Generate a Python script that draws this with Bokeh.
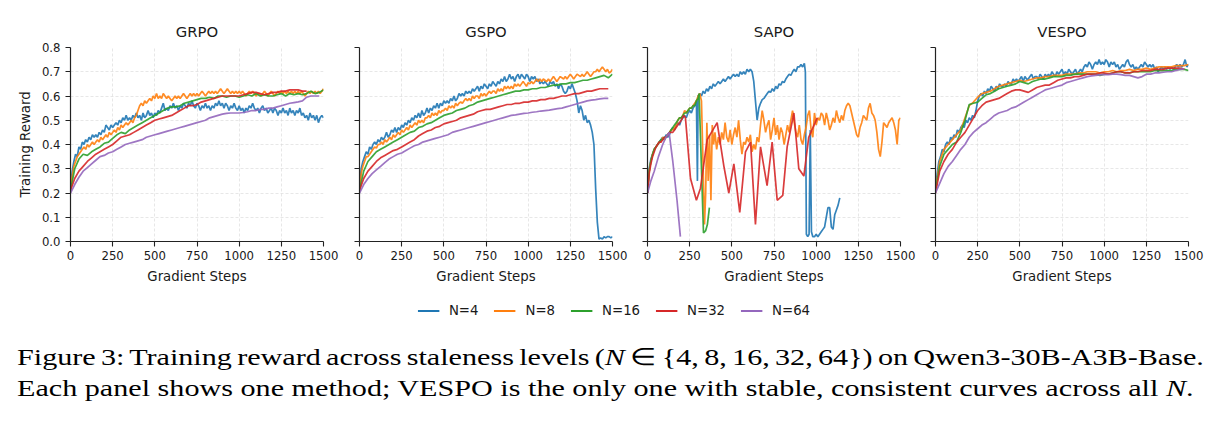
from bokeh.plotting import figure
from bokeh.models import Range1d, FixedTicker, Legend, LegendItem, Div, CustomJSTickFormatter
from bokeh.layouts import row, column
from bokeh.embed import file_html
from bokeh.resources import INLINE

METHODS = ["GRPO", "GSPO", "SAPO", "VESPO"]
LABELS = ["N=4", "N=8", "N=16", "N=32", "N=64"]
COLORS = ["#1f77b4", "#ff7f0e", "#2ca02c", "#d62728", "#9467bd"]
X_TICKS = [0, 250, 500, 750, 1000, 1250, 1500]
Y_TICKS = [0.0, 0.1, 0.2, 0.3, 0.4, 0.5, 0.6, 0.7, 0.8]
CAPTION_1 = "Figure 3: Training reward across staleness levels (<i>N</i> &isin; {4, 8, 16, 32, 64}) on Qwen3-30B-A3B-Base."
CAPTION_2 = "Each panel shows one method; VESPO is the only one with stable, consistent curves across all <i>N</i>."

STEPS_10 = list(range(0, 1501, 10))
STEPS_25 = list(range(0, 1501, 25))

# ---------------- GRPO ----------------
grpo_n4 = [
    0.21, 0.29, 0.33, 0.36, 0.35, 0.39, 0.38, 0.41, 0.40, 0.42,
    0.41, 0.43, 0.42, 0.44, 0.43, 0.44, 0.43, 0.45, 0.44, 0.46,
    0.45, 0.48, 0.47, 0.46, 0.48, 0.47, 0.48, 0.49, 0.48, 0.50,
    0.49, 0.51, 0.50, 0.52, 0.50, 0.51, 0.50, 0.52, 0.51, 0.53,
    0.51, 0.52, 0.50, 0.53, 0.51, 0.52, 0.54, 0.52, 0.53, 0.51,
    0.53, 0.52, 0.54, 0.53, 0.55, 0.57, 0.54, 0.55, 0.54, 0.56,
    0.55, 0.57, 0.55, 0.56, 0.54, 0.56, 0.55, 0.57, 0.56, 0.55,
    0.57, 0.56, 0.58, 0.56, 0.55, 0.57, 0.56, 0.54, 0.56, 0.55,
    0.57, 0.55, 0.56, 0.54, 0.56, 0.55, 0.57, 0.56, 0.58, 0.56,
    0.57, 0.55, 0.57, 0.56, 0.54, 0.56, 0.55, 0.57, 0.55, 0.54,
    0.56, 0.54, 0.55, 0.53, 0.55, 0.54, 0.56, 0.55, 0.57, 0.55,
    0.54, 0.55, 0.53, 0.55, 0.56, 0.54, 0.55, 0.53, 0.54, 0.55,
    0.53, 0.55, 0.54, 0.52, 0.54, 0.53, 0.55, 0.53, 0.54, 0.52,
    0.55, 0.53, 0.54, 0.52, 0.54, 0.53, 0.55, 0.52, 0.53, 0.51,
    0.52, 0.50, 0.53, 0.51, 0.52, 0.50, 0.52, 0.49, 0.51, 0.52,
    0.51]
grpo_n8 = [
    0.21, 0.27, 0.31, 0.33, 0.35, 0.36, 0.37, 0.38, 0.39, 0.38,
    0.40, 0.39, 0.40, 0.41, 0.40, 0.41, 0.42, 0.41, 0.43, 0.42,
    0.43, 0.44, 0.43, 0.45, 0.44, 0.45, 0.46, 0.45, 0.47, 0.46,
    0.48, 0.47, 0.48, 0.49, 0.48, 0.49, 0.50, 0.49, 0.51, 0.52,
    0.54, 0.56, 0.57, 0.56, 0.58, 0.57, 0.58, 0.59, 0.58, 0.60,
    0.59, 0.61, 0.59, 0.60, 0.59, 0.61, 0.60, 0.59, 0.60, 0.59,
    0.58, 0.59, 0.60, 0.59, 0.60, 0.59, 0.60, 0.61, 0.60, 0.59,
    0.60, 0.61, 0.60, 0.61, 0.60, 0.61, 0.60, 0.61, 0.62, 0.61,
    0.60, 0.61, 0.62, 0.61, 0.62, 0.61, 0.62, 0.61, 0.62, 0.63,
    0.62, 0.61, 0.62, 0.63, 0.62, 0.61, 0.62, 0.61, 0.62, 0.61,
    0.62, 0.61, 0.62, 0.61, 0.60, 0.61, 0.62, 0.61, 0.62, 0.61,
    0.60, 0.61, 0.61, 0.60, 0.61, 0.62, 0.61, 0.60, 0.61, 0.62,
    0.61, 0.60, 0.61, 0.62, 0.61, 0.62, 0.61, 0.62, 0.61, 0.62,
    0.61, 0.62, 0.61, 0.62, 0.61, 0.62, 0.61, 0.62, 0.61, 0.60,
    0.61, 0.62, 0.61, 0.62, 0.61, 0.62, 0.61, 0.62, 0.61, 0.62,
    0.63]
grpo_n16 = [
    0.21, 0.30, 0.34, 0.36,
    0.355, 0.37, 0.38, 0.39,
    0.405, 0.41, 0.425, 0.44,
    0.45, 0.445, 0.46, 0.47,
    0.48, 0.49, 0.50, 0.51,
    0.52, 0.53, 0.54, 0.55,
    0.555, 0.555, 0.56, 0.57,
    0.575, 0.58, 0.585, 0.59,
    0.59, 0.595, 0.59, 0.60,
    0.60, 0.595, 0.60, 0.60,
    0.595, 0.60, 0.605, 0.60,
    0.61, 0.60, 0.605, 0.60,
    0.60, 0.605, 0.61, 0.60,
    0.61, 0.605, 0.61, 0.605,
    0.61, 0.62, 0.61, 0.615,
    0.625]
grpo_n32 = [
    0.21, 0.26, 0.29, 0.31,
    0.33, 0.345, 0.36, 0.37,
    0.38, 0.39, 0.40, 0.415,
    0.43, 0.435, 0.44, 0.45,
    0.46, 0.47, 0.48, 0.49,
    0.50, 0.505, 0.51, 0.515,
    0.52, 0.53, 0.54, 0.55,
    0.56, 0.56, 0.565, 0.575,
    0.58, 0.585, 0.59, 0.595,
    0.60, 0.60, 0.60, 0.60,
    0.60, 0.605, 0.61, 0.615,
    0.615, 0.61, 0.605, 0.61,
    0.615, 0.615, 0.62, 0.62,
    0.625, 0.625, 0.625, 0.62,
    0.62]
grpo_n64 = [
    0.20, 0.235, 0.265, 0.29,
    0.305, 0.32, 0.335, 0.35,
    0.355, 0.365, 0.37, 0.38,
    0.39, 0.40, 0.405, 0.41,
    0.415, 0.42, 0.43, 0.435,
    0.44, 0.445, 0.45, 0.455,
    0.46, 0.465, 0.47, 0.475,
    0.48, 0.485, 0.49, 0.495,
    0.50, 0.51, 0.515, 0.52,
    0.525, 0.528, 0.53, 0.53,
    0.53, 0.532, 0.535, 0.54,
    0.54, 0.545, 0.545, 0.55,
    0.55, 0.555, 0.56, 0.565,
    0.57, 0.573, 0.576, 0.58,
    0.595, 0.60, 0.60, 0.60]

# ---------------- GSPO ----------------
gspo_n4 = [
    0.21, 0.30, 0.33, 0.35, 0.37, 0.36, 0.39, 0.38, 0.40, 0.41,
    0.40, 0.42, 0.41, 0.43, 0.42, 0.43, 0.45, 0.43, 0.44, 0.46,
    0.45, 0.47, 0.45, 0.47, 0.46, 0.48, 0.47, 0.49, 0.48, 0.50,
    0.49, 0.51, 0.50, 0.52, 0.51, 0.53, 0.51, 0.54, 0.52, 0.53,
    0.55, 0.53, 0.55, 0.54, 0.56, 0.55, 0.57, 0.55, 0.57, 0.56,
    0.58, 0.57, 0.58, 0.57, 0.59, 0.58, 0.60, 0.58, 0.59, 0.61,
    0.60, 0.61, 0.60, 0.62, 0.61, 0.62, 0.61, 0.63, 0.62, 0.63,
    0.64, 0.62, 0.64, 0.63, 0.65, 0.64, 0.63, 0.65, 0.64, 0.66,
    0.65, 0.64, 0.66, 0.65, 0.67, 0.66, 0.68, 0.66, 0.67, 0.69,
    0.67, 0.68, 0.66, 0.68, 0.69, 0.67, 0.69, 0.68, 0.67, 0.69,
    0.68, 0.66, 0.68, 0.67, 0.68, 0.66, 0.67, 0.65, 0.66, 0.65,
    0.66, 0.65, 0.64, 0.66, 0.65, 0.66, 0.64, 0.65, 0.63, 0.65,
    0.64, 0.62, 0.61, 0.62, 0.64, 0.63, 0.65, 0.63, 0.61, 0.58,
    0.53, 0.56, 0.54, 0.50, 0.52, 0.49, 0.50, 0.48, 0.45, 0.40,
    0.22, 0.08, 0.01, 0.015, 0.01, 0.02, 0.015, 0.02, 0.02, 0.015,
    0.02]
gspo_n8 = [
    0.21, 0.28, 0.31, 0.33, 0.35, 0.35, 0.36, 0.37, 0.38, 0.39,
    0.385, 0.40, 0.40, 0.41, 0.40, 0.42, 0.41, 0.42, 0.43, 0.42,
    0.44, 0.43, 0.44, 0.45, 0.44, 0.46, 0.45, 0.46, 0.47, 0.46,
    0.48, 0.47, 0.48, 0.49, 0.48, 0.50, 0.49, 0.50, 0.49, 0.51,
    0.51, 0.52, 0.51, 0.53, 0.52, 0.53, 0.52, 0.54, 0.53, 0.54,
    0.54, 0.55, 0.54, 0.56, 0.55, 0.56, 0.55, 0.57, 0.56, 0.57,
    0.575, 0.57, 0.58, 0.59, 0.58, 0.59, 0.58, 0.60, 0.59, 0.60,
    0.60, 0.59, 0.61, 0.60, 0.61, 0.60, 0.61, 0.62, 0.61, 0.62,
    0.62, 0.61, 0.63, 0.62, 0.63, 0.62, 0.64, 0.63, 0.64, 0.63,
    0.64, 0.63, 0.65, 0.64, 0.65, 0.64, 0.65, 0.66, 0.65, 0.64,
    0.655, 0.65, 0.66, 0.65, 0.66, 0.67, 0.66, 0.67, 0.66, 0.67,
    0.665, 0.66, 0.67, 0.66, 0.67, 0.68, 0.67, 0.66, 0.67, 0.68,
    0.675, 0.67, 0.68, 0.67, 0.68, 0.69, 0.68, 0.67, 0.68, 0.69,
    0.685, 0.68, 0.69, 0.68, 0.69, 0.70, 0.69, 0.68, 0.69, 0.70,
    0.70, 0.71, 0.70, 0.71, 0.72, 0.71, 0.70, 0.71, 0.695, 0.70,
    0.71]
gspo_n16 = [
    0.21, 0.29, 0.33, 0.35,
    0.37, 0.38, 0.39, 0.40,
    0.41, 0.42, 0.43, 0.44,
    0.45, 0.455, 0.47, 0.475,
    0.485, 0.49, 0.50, 0.51,
    0.52, 0.525, 0.53, 0.54,
    0.545, 0.55, 0.56, 0.565,
    0.575, 0.58, 0.585, 0.59,
    0.595, 0.60, 0.605, 0.61,
    0.615, 0.62, 0.62, 0.625,
    0.625, 0.63, 0.63, 0.635,
    0.635, 0.64, 0.645, 0.645,
    0.65, 0.65, 0.655, 0.655,
    0.66, 0.665, 0.665, 0.67,
    0.675, 0.68, 0.685, 0.675,
    0.69]
gspo_n32 = [
    0.21, 0.26, 0.29, 0.31,
    0.33, 0.345, 0.355, 0.365,
    0.375, 0.38, 0.39, 0.40,
    0.41, 0.42, 0.435, 0.445,
    0.455, 0.46, 0.47, 0.475,
    0.485, 0.49, 0.495, 0.50,
    0.51, 0.515, 0.52, 0.525,
    0.535, 0.54, 0.545, 0.545,
    0.55, 0.555, 0.56, 0.565,
    0.565, 0.57, 0.57, 0.575,
    0.575, 0.58, 0.58, 0.585,
    0.585, 0.59, 0.59, 0.595,
    0.60, 0.60, 0.605, 0.61,
    0.61, 0.615, 0.62, 0.62,
    0.625, 0.63, 0.63, 0.63]
gspo_n64 = [
    0.20, 0.235, 0.26, 0.28,
    0.295, 0.31, 0.325, 0.34,
    0.35, 0.36, 0.365, 0.375,
    0.385, 0.395, 0.40, 0.41,
    0.415, 0.42, 0.425, 0.43,
    0.435, 0.44, 0.45, 0.455,
    0.46, 0.465, 0.47, 0.475,
    0.48, 0.485, 0.49, 0.495,
    0.50, 0.505, 0.51, 0.515,
    0.52, 0.522, 0.525, 0.528,
    0.53, 0.533, 0.535, 0.538,
    0.54, 0.542, 0.545, 0.548,
    0.55, 0.555, 0.56, 0.565,
    0.57, 0.575, 0.58, 0.583,
    0.585, 0.588, 0.59, 0.59]

# ---------------- SAPO (irregular steps) ----------------
sapo_n4_steps = (list(range(0, 300, 10)) + [296] + list(range(300, 940, 10))
                 + [936, 942, 950, 958, 965, 972] + list(range(980, 1141, 10)))
sapo_n4 = [
    0.20, 0.30, 0.34, 0.36, 0.38, 0.39, 0.40, 0.41, 0.42, 0.43,
    0.42, 0.44, 0.43, 0.44, 0.46, 0.47, 0.46, 0.48, 0.49, 0.48,
    0.50, 0.51, 0.52, 0.51, 0.53, 0.54, 0.53, 0.55, 0.56, 0.58,
    0.25,
    0.60, 0.61, 0.60, 0.62, 0.61, 0.63, 0.62, 0.64, 0.63, 0.65,
    0.64, 0.65, 0.66, 0.65, 0.66, 0.67, 0.66, 0.67, 0.68, 0.67,
    0.68, 0.69, 0.68, 0.69, 0.68, 0.70, 0.69, 0.70, 0.69, 0.71,
    0.70, 0.71, 0.70, 0.66, 0.58, 0.50, 0.55, 0.57, 0.585, 0.59,
    0.60, 0.61, 0.62, 0.615, 0.63, 0.62, 0.64, 0.63, 0.65, 0.645,
    0.66, 0.655, 0.67, 0.68, 0.69, 0.685, 0.70, 0.71, 0.70, 0.72,
    0.72, 0.73, 0.72, 0.735,
    0.70, 0.03, 0.02, 0.03, 0.46, 0.04,
    0.02, 0.02, 0.03, 0.02, 0.03, 0.04, 0.05, 0.06, 0.10, 0.14,
    0.14, 0.06, 0.05, 0.11, 0.13, 0.15, 0.18]
sapo_n8_steps = (list(range(0, 321, 10)) + [330, 338, 345, 352, 360, 368, 376, 384, 392]
                 + list(range(400, 1501, 10)))
sapo_n8 = [
    0.20, 0.29, 0.33, 0.36, 0.38, 0.39, 0.40, 0.41, 0.41, 0.43,
    0.42, 0.43, 0.44, 0.45, 0.46, 0.46, 0.47, 0.48, 0.50, 0.51,
    0.51, 0.52, 0.54, 0.53, 0.54, 0.55, 0.55, 0.56, 0.57, 0.58,
    0.60, 0.61, 0.58,
    0.30, 0.07, 0.20, 0.49, 0.25, 0.44, 0.17, 0.48, 0.40,
    0.45, 0.38, 0.43, 0.40, 0.45, 0.42, 0.49, 0.43, 0.41, 0.46,
    0.40, 0.44, 0.47, 0.43, 0.50, 0.42, 0.36, 0.41, 0.40, 0.43,
    0.41, 0.44, 0.37, 0.40, 0.38, 0.43, 0.41, 0.48, 0.54, 0.50,
    0.45, 0.48, 0.50, 0.42, 0.46, 0.51, 0.44, 0.48, 0.42, 0.47,
    0.45, 0.40, 0.44, 0.48, 0.45, 0.50, 0.54, 0.49, 0.45, 0.43,
    0.48, 0.42, 0.40, 0.44, 0.47, 0.52, 0.54, 0.46, 0.43, 0.53,
    0.48, 0.51, 0.50, 0.53, 0.52, 0.48, 0.53, 0.50, 0.46, 0.48,
    0.51, 0.49, 0.54, 0.51, 0.49, 0.52, 0.50, 0.54, 0.56, 0.57,
    0.56, 0.53, 0.50, 0.47, 0.44, 0.43, 0.47, 0.49, 0.52, 0.51,
    0.50, 0.55, 0.57, 0.53, 0.52, 0.50, 0.45, 0.38, 0.35, 0.41,
    0.49, 0.48, 0.47, 0.49, 0.50, 0.51, 0.49, 0.46, 0.40, 0.50,
    0.51]
sapo_n16_steps = list(range(0, 301, 10)) + [306, 320, 332, 345, 355, 367]
sapo_n16 = [
    0.20, 0.29, 0.33, 0.36, 0.38, 0.39, 0.40, 0.41, 0.42, 0.42,
    0.43, 0.43, 0.44, 0.45, 0.46, 0.47, 0.48, 0.49, 0.50, 0.51,
    0.51, 0.52, 0.53, 0.53, 0.54, 0.55, 0.55, 0.56, 0.56, 0.58,
    0.59,
    0.61, 0.30, 0.035, 0.045, 0.07, 0.14]
sapo_n32_steps = (list(range(0, 201, 10))
                  + [215, 225, 255, 290, 314, 354, 413, 453, 482, 512, 547, 581, 611,
                     640, 670, 709, 739, 769, 802, 828, 868, 897, 927, 956, 1006])
sapo_n32 = [
    0.20, 0.28, 0.32, 0.35, 0.37, 0.39, 0.40, 0.41, 0.41, 0.42,
    0.43, 0.43, 0.44, 0.45, 0.45, 0.45, 0.46, 0.47, 0.48, 0.49,
    0.50,
    0.52, 0.51, 0.26, 0.17, 0.22, 0.42, 0.49, 0.31, 0.20, 0.32, 0.12, 0.37, 0.41,
    0.07, 0.39, 0.23, 0.41, 0.17, 0.19, 0.39, 0.53, 0.30, 0.27, 0.43, 0.51]
sapo_n64_steps = [0, 20, 40, 65, 90, 110, 128, 150, 175, 195]
sapo_n64 = [0.20, 0.25, 0.29, 0.35, 0.40, 0.43, 0.45, 0.33, 0.17, 0.02]

# ---------------- VESPO ----------------
vespo_n4 = [
    0.21, 0.28, 0.33, 0.35, 0.38, 0.37, 0.40, 0.41, 0.40, 0.43,
    0.42, 0.44, 0.43, 0.46, 0.45, 0.47, 0.48, 0.47, 0.50, 0.49,
    0.51, 0.50, 0.52, 0.51, 0.54, 0.58, 0.60, 0.61, 0.60, 0.62,
    0.61, 0.63, 0.62, 0.64, 0.63, 0.62, 0.64, 0.63, 0.65, 0.64,
    0.64, 0.65, 0.64, 0.66, 0.65, 0.65, 0.67, 0.66, 0.67, 0.66,
    0.67, 0.68, 0.66, 0.68, 0.67, 0.67, 0.68, 0.69, 0.67, 0.68,
    0.68, 0.67, 0.69, 0.68, 0.67, 0.69, 0.68, 0.69, 0.68, 0.70,
    0.69, 0.68, 0.70, 0.69, 0.70, 0.71, 0.69, 0.70, 0.69, 0.71,
    0.70, 0.69, 0.70, 0.71, 0.69, 0.70, 0.71, 0.70, 0.72, 0.73,
    0.72, 0.74, 0.73, 0.71, 0.73, 0.74, 0.73, 0.75, 0.73, 0.74,
    0.73, 0.75, 0.74, 0.72, 0.74, 0.73, 0.74, 0.72, 0.73, 0.71,
    0.72, 0.73, 0.72, 0.74, 0.75, 0.73, 0.72, 0.73, 0.71, 0.72,
    0.71, 0.72, 0.73, 0.72, 0.74, 0.73, 0.72, 0.73, 0.72, 0.73,
    0.71, 0.72, 0.70, 0.71, 0.72, 0.71, 0.72, 0.71, 0.72, 0.71,
    0.72, 0.71, 0.72, 0.73, 0.72, 0.73, 0.72, 0.73, 0.75, 0.72,
    0.73]
vespo_n8 = [
    0.21, 0.33, 0.38, 0.40,
    0.42, 0.44, 0.46, 0.51,
    0.56, 0.575, 0.595, 0.61,
    0.615, 0.62, 0.63, 0.64,
    0.645, 0.65, 0.655, 0.66,
    0.665, 0.66, 0.665, 0.67,
    0.675, 0.675, 0.68, 0.68,
    0.685, 0.685, 0.685, 0.69,
    0.69, 0.69, 0.695, 0.695,
    0.70, 0.70, 0.70, 0.695,
    0.70, 0.70, 0.705, 0.70,
    0.705, 0.705, 0.71, 0.705,
    0.71, 0.71, 0.715, 0.71,
    0.715, 0.72, 0.72, 0.72,
    0.72, 0.725, 0.725, 0.725,
    0.73]
vespo_n16 = [
    0.21, 0.31, 0.36, 0.38,
    0.40, 0.41, 0.45, 0.50,
    0.565, 0.57, 0.575, 0.59,
    0.605, 0.61, 0.62, 0.63,
    0.635, 0.64, 0.645, 0.65,
    0.66, 0.655, 0.65, 0.66,
    0.665, 0.67, 0.67, 0.675,
    0.68, 0.68, 0.68, 0.685,
    0.685, 0.69, 0.69, 0.69,
    0.69, 0.69, 0.69, 0.685,
    0.69, 0.69, 0.695, 0.70,
    0.70, 0.695, 0.695, 0.70,
    0.70, 0.70, 0.70, 0.70,
    0.705, 0.705, 0.705, 0.705,
    0.705, 0.71, 0.71, 0.71,
    0.705]
vespo_n32 = [
    0.20, 0.29, 0.33, 0.36,
    0.38, 0.41, 0.43, 0.45,
    0.48, 0.51, 0.54, 0.56,
    0.575, 0.58, 0.585, 0.59,
    0.60, 0.61, 0.62, 0.625,
    0.625, 0.62, 0.615, 0.625,
    0.635, 0.64, 0.645, 0.645,
    0.655, 0.665, 0.67, 0.675,
    0.675, 0.68, 0.68, 0.685,
    0.69, 0.69, 0.69, 0.695,
    0.695, 0.69, 0.695, 0.70,
    0.70, 0.695, 0.695, 0.70,
    0.70, 0.705, 0.705, 0.705,
    0.71, 0.71, 0.71, 0.715,
    0.715, 0.715, 0.715, 0.71]
vespo_n64 = [
    0.20, 0.24, 0.28, 0.31,
    0.33, 0.355, 0.38, 0.40,
    0.43, 0.45, 0.465, 0.48,
    0.49, 0.505, 0.52, 0.53,
    0.535, 0.54, 0.55, 0.555,
    0.565, 0.575, 0.585, 0.595,
    0.605, 0.615, 0.625, 0.63,
    0.635, 0.64, 0.645, 0.655,
    0.66, 0.665, 0.67, 0.675,
    0.68, 0.683, 0.685, 0.687,
    0.688, 0.688, 0.69, 0.69,
    0.688, 0.685, 0.685, 0.68,
    0.675, 0.68, 0.69, 0.69,
    0.695, 0.695, 0.698, 0.70,
    0.70, 0.705, 0.71, 0.712]

SERIES = {
    "GRPO": [(STEPS_10, grpo_n4), (STEPS_10, grpo_n8), (STEPS_25, grpo_n16),
             (STEPS_25, grpo_n32), (STEPS_25, grpo_n64)],
    "GSPO": [(STEPS_10, gspo_n4), (STEPS_10, gspo_n8), (STEPS_25, gspo_n16),
             (STEPS_25, gspo_n32), (STEPS_25, gspo_n64)],
    "SAPO": [(sapo_n4_steps, sapo_n4), (sapo_n8_steps, sapo_n8), (sapo_n16_steps, sapo_n16),
             (sapo_n32_steps, sapo_n32), (sapo_n64_steps, sapo_n64)],
    "VESPO": [(STEPS_10, vespo_n4), (STEPS_25, vespo_n8), (STEPS_25, vespo_n16),
              (STEPS_25, vespo_n32), (STEPS_25, vespo_n64)],
}

FONT = "DejaVu Sans"
TXT = "#1a1a1a"
BORDERS = [(70, 18), (18, 17), (18, 17), (18, 39)]


def make_panel(idx, method):
    left, right = BORDERS[idx]
    p = figure(frame_width=253, frame_height=194,
               min_border_left=left, min_border_right=right,
               min_border_top=47, min_border_bottom=49,
               x_range=Range1d(0, 1500), y_range=Range1d(0, 0.8),
               output_backend="svg", toolbar_location=None, title=method)
    p.outline_line_color = None
    p.background_fill_color = "white"
    p.border_fill_color = "white"
    p.title.align = "center"
    p.title.text_font = FONT
    p.title.text_font_size = "14.8px"
    p.title.text_font_style = "normal"
    p.title.text_color = TXT
    p.title.standoff = 15

    p.xaxis.ticker = FixedTicker(ticks=X_TICKS)
    p.yaxis.ticker = FixedTicker(ticks=Y_TICKS)
    for ax in (p.xaxis[0], p.yaxis[0]):
        ax.axis_line_color = "#222222"
        ax.axis_line_width = 1.2
        ax.major_tick_line_color = "#222222"
        ax.major_tick_line_width = 1.1
        ax.major_tick_out = 5
        ax.major_tick_in = 0
        ax.minor_tick_line_color = None
        ax.major_label_text_font = FONT
        ax.major_label_text_font_size = "11.7px"
        ax.major_label_text_color = TXT
        ax.major_label_standoff = 5
        ax.axis_label_text_font = FONT
        ax.axis_label_text_font_size = "13.3px"
        ax.axis_label_text_font_style = "normal"
        ax.axis_label_text_color = TXT
        ax.axis_label_standoff = 6
    p.xaxis.axis_label = "Gradient Steps"
    p.xaxis.major_label_standoff = 4
    if idx == 0:
        p.yaxis.axis_label = "Training Reward"
        p.yaxis.formatter = CustomJSTickFormatter(code="return tick.toFixed(1);")
    else:
        p.yaxis.formatter = CustomJSTickFormatter(code="return '';")

    p.xgrid.ticker = FixedTicker(ticks=X_TICKS)
    p.ygrid.ticker = FixedTicker(ticks=Y_TICKS)
    for g in (p.xgrid[0], p.ygrid[0]):
        g.grid_line_color = "#d9d9d9"
        g.grid_line_alpha = 0.8
        g.grid_line_dash = "3 2"
        g.grid_line_width = 0.8

    for (steps, vals), color in zip(SERIES[method], COLORS):
        n = min(len(steps), len(vals))
        p.line(x=steps[:n], y=vals[:n], line_color=color, line_width=1.7, line_alpha=0.9)
    return p


panels = [make_panel(i, m) for i, m in enumerate(METHODS)]

# legend strip (placeholder renderers hold only NaN so nothing is drawn in the frame)
NAN = float("nan")
leg = figure(width=1227, height=40, x_range=Range1d(0, 1), y_range=Range1d(0, 1),
             x_axis_type=None, y_axis_type=None, min_border=0,
             output_backend="svg", toolbar_location=None)
leg.outline_line_color = None
leg.grid.visible = False
items = []
for lab, color in zip(LABELS, COLORS):
    r = leg.line(x=[NAN, NAN], y=[NAN, NAN], line_color=color, line_width=2)
    items.append(LegendItem(label=lab, renderers=[r]))
legend = Legend(items=items, orientation="horizontal", location="center",
                border_line_color=None, background_fill_alpha=0,
                label_text_font=FONT, label_text_font_size="13.3px", label_text_color=TXT,
                glyph_width=22, glyph_height=14, label_standoff=10, spacing=15,
                padding=0, margin=0)
leg.add_layout(legend, "center")

caption_html = (
    '<div style="font-family:\'Liberation Serif\',\'Times New Roman\',serif;'
    'font-size:24px;line-height:31px;color:#000;white-space:nowrap;'
    'padding-top:12px;padding-left:17px;">'
    '<div style="transform:scaleX(1.256);transform-origin:0 0;">'
    '<span style="word-spacing:-1.8px;">' + CAPTION_1 + '</span><br>'
    '<span>' + CAPTION_2 + '</span>'
    '</div></div>'
)
caption = Div(text=caption_html, width=1227, height=94, margin=(0, 0, 0, 0))

layout = column(row(*panels), leg, caption)
open("out.html", "w").write(file_html(layout, INLINE))
